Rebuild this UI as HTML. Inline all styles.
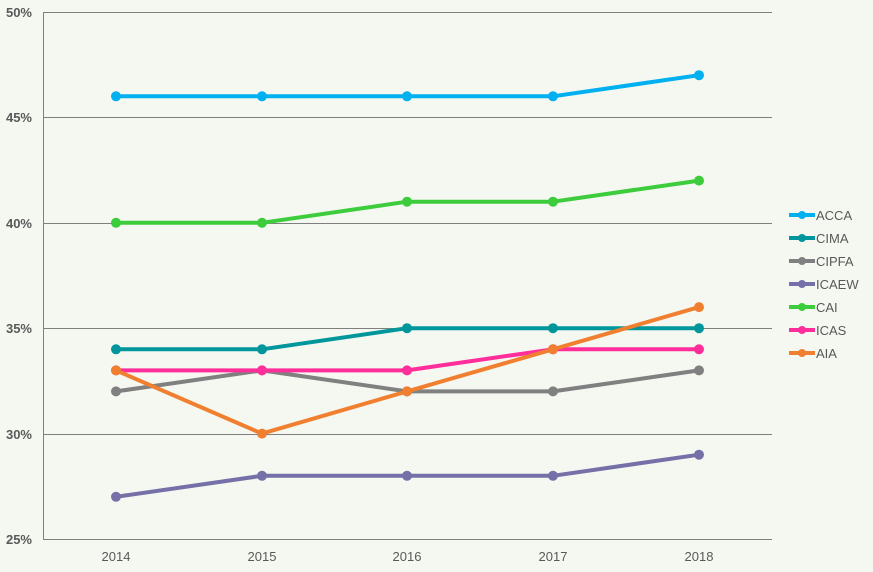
<!DOCTYPE html>
<html><head><meta charset="utf-8"><style>
body{margin:0;background:#f5f8f1;}
svg{display:block;font-family:"Liberation Sans",sans-serif;}
</style></head><body>
<svg width="873" height="572" viewBox="0 0 873 572">
<rect width="873" height="572" fill="#f5f8f1"/>
<g stroke="#7f7f7f" stroke-width="1">
<line x1="43" y1="12.5" x2="772" y2="12.5"/>
<line x1="43" y1="117.5" x2="772" y2="117.5"/>
<line x1="43" y1="223.5" x2="772" y2="223.5"/>
<line x1="43" y1="328.5" x2="772" y2="328.5"/>
<line x1="43" y1="434.5" x2="772" y2="434.5"/>
<line x1="43" y1="539.5" x2="772" y2="539.5"/>
<line x1="43.5" y1="12" x2="43.5" y2="539"/>
</g>
<g font-size="13" font-weight="bold" fill="#595959" text-anchor="end">
<text x="32" y="17">50%</text><text x="32" y="122">45%</text><text x="32" y="228">40%</text>
<text x="32" y="333">35%</text><text x="32" y="439">30%</text><text x="32" y="544">25%</text>
</g>
<g font-size="13" fill="#595959" text-anchor="middle">
<text x="116" y="561">2014</text><text x="262" y="561">2015</text><text x="407" y="561">2016</text>
<text x="553" y="561">2017</text><text x="699" y="561">2018</text>
</g>
<g fill="none" stroke-width="4" stroke-linejoin="round">
<polyline stroke="#00b0f0" points="116,96.3 262,96.3 407,96.3 553,96.3 699,75.2"/>
<polyline stroke="#00969b" points="116,349.3 262,349.3 407,328.2 553,328.2 699,328.2"/>
<polyline stroke="#808080" points="116,391.4 262,370.4 407,391.4 553,391.4 699,370.4"/>
<polyline stroke="#7570a8" points="116,496.8 262,475.8 407,475.8 553,475.8 699,454.7"/>
<polyline stroke="#3ccc3c" points="116,222.8 262,222.8 407,201.7 553,201.7 699,180.6"/>
<polyline stroke="#ff2e9a" points="116,370.4 262,370.4 407,370.4 553,349.3 699,349.3"/>
<polyline stroke="#f07f30" points="116,370.4 262,433.6 407,391.4 553,349.3 699,307.1"/>
</g>
<g fill="#00b0f0"><circle cx="116" cy="96.3" r="5"/><circle cx="262" cy="96.3" r="5"/><circle cx="407" cy="96.3" r="5"/><circle cx="553" cy="96.3" r="5"/><circle cx="699" cy="75.2" r="5"/></g>
<g fill="#00969b"><circle cx="116" cy="349.3" r="5"/><circle cx="262" cy="349.3" r="5"/><circle cx="407" cy="328.2" r="5"/><circle cx="553" cy="328.2" r="5"/><circle cx="699" cy="328.2" r="5"/></g>
<g fill="#808080"><circle cx="116" cy="391.4" r="5"/><circle cx="262" cy="370.4" r="5"/><circle cx="407" cy="391.4" r="5"/><circle cx="553" cy="391.4" r="5"/><circle cx="699" cy="370.4" r="5"/></g>
<g fill="#7570a8"><circle cx="116" cy="496.8" r="5"/><circle cx="262" cy="475.8" r="5"/><circle cx="407" cy="475.8" r="5"/><circle cx="553" cy="475.8" r="5"/><circle cx="699" cy="454.7" r="5"/></g>
<g fill="#3ccc3c"><circle cx="116" cy="222.8" r="5"/><circle cx="262" cy="222.8" r="5"/><circle cx="407" cy="201.7" r="5"/><circle cx="553" cy="201.7" r="5"/><circle cx="699" cy="180.6" r="5"/></g>
<g fill="#ff2e9a"><circle cx="116" cy="370.4" r="5"/><circle cx="262" cy="370.4" r="5"/><circle cx="407" cy="370.4" r="5"/><circle cx="553" cy="349.3" r="5"/><circle cx="699" cy="349.3" r="5"/></g>
<g fill="#f07f30"><circle cx="116" cy="370.4" r="5"/><circle cx="262" cy="433.6" r="5"/><circle cx="407" cy="391.4" r="5"/><circle cx="553" cy="349.3" r="5"/><circle cx="699" cy="307.1" r="5"/></g>
<g stroke-width="4" font-size="13" fill="#595959">
<line x1="789" y1="215" x2="815" y2="215" stroke="#00b0f0"/><circle cx="802" cy="215" r="4" fill="#00b0f0"/><text x="816" y="220">ACCA</text>
<line x1="789" y1="238" x2="815" y2="238" stroke="#00969b"/><circle cx="802" cy="238" r="4" fill="#00969b"/><text x="816" y="243">CIMA</text>
<line x1="789" y1="261" x2="815" y2="261" stroke="#808080"/><circle cx="802" cy="261" r="4" fill="#808080"/><text x="816" y="266">CIPFA</text>
<line x1="789" y1="284" x2="815" y2="284" stroke="#7570a8"/><circle cx="802" cy="284" r="4" fill="#7570a8"/><text x="816" y="289">ICAEW</text>
<line x1="789" y1="307" x2="815" y2="307" stroke="#3ccc3c"/><circle cx="802" cy="307" r="4" fill="#3ccc3c"/><text x="816" y="312">CAI</text>
<line x1="789" y1="330" x2="815" y2="330" stroke="#ff2e9a"/><circle cx="802" cy="330" r="4" fill="#ff2e9a"/><text x="816" y="335">ICAS</text>
<line x1="789" y1="353" x2="815" y2="353" stroke="#f07f30"/><circle cx="802" cy="353" r="4" fill="#f07f30"/><text x="816" y="358">AIA</text>
</g>
</svg>
</body></html>
